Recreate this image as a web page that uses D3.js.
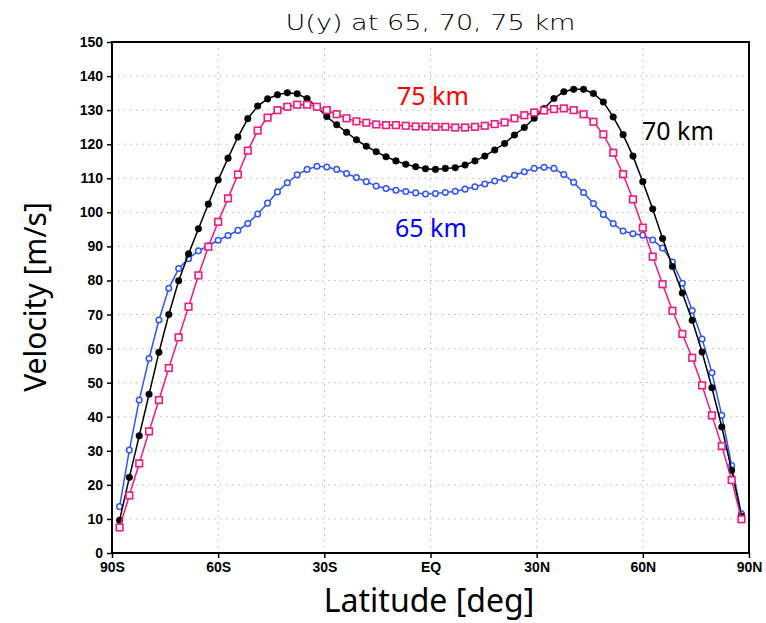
<!DOCTYPE html>
<html>
<head>
<meta charset="utf-8">
<script src="https://cdn.jsdelivr.net/npm/d3@7"></script>
<style>
  body { margin: 0; background: #fff; }
  svg { display: block; }
</style>
</head>
<body>
<div id="chart"></div>
<script>
// Gaussian latitudes (64 points), south to north
const lats = [
  -87.86, -85.10, -82.31, -79.53, -76.74, -73.95, -71.16, -68.37, -65.58, -62.79,
  -60.00, -57.21, -54.42, -51.63, -48.84, -46.04, -43.25, -40.46, -37.67, -34.88,
  -32.09, -29.30, -26.51, -23.72, -20.93, -18.14, -15.35, -12.56, -9.77, -6.98,
  -4.19, -1.40, 1.40, 4.19, 6.98, 9.77, 12.56, 15.35, 18.14, 20.93,
  23.72, 26.51, 29.30, 32.09, 34.88, 37.67, 40.46, 43.25, 46.04, 48.84,
  51.63, 54.42, 57.21, 60.00, 62.79, 65.58, 68.37, 71.16, 73.95, 76.74,
  79.53, 82.31, 85.10, 87.86
];

// U at 65 km (blue)
const u65 = [
  13.6, 30.2, 44.9, 57.1, 68.4, 77.7, 83.5, 86.4, 88.7, 90.2,
  91.8, 93.2, 94.7, 96.7, 99.5, 102.7, 106.0, 108.7, 111.0, 112.6,
  113.5, 113.3, 112.6, 111.4, 110.2, 109.0, 107.7, 107.0, 106.5, 106.1,
  105.7, 105.4, 105.5, 105.8, 106.2, 106.8, 107.5, 108.3, 109.2, 109.9,
  110.9, 111.9, 112.9, 113.2, 112.9, 111.1, 108.8, 105.8, 102.6, 99.4,
  96.7, 94.5, 93.7, 93.3, 91.9, 89.5, 85.4, 79.2, 71.2, 62.8,
  52.9, 40.4, 25.7, 11.5
];

// U at 70 km (black)
const u70 = [
  9.6, 22.2, 34.4, 46.6, 58.9, 70.0, 79.9, 87.8, 95.2, 102.4,
  109.5, 115.9, 122.1, 127.5, 131.2, 133.3, 134.5, 135.1, 134.8, 133.4,
  130.9, 128.1, 125.7, 123.5, 121.3, 119.4, 117.8, 116.3, 115.1, 114.1,
  113.4, 112.8, 112.6, 112.9, 113.1, 113.9, 115.1, 116.5, 118.3, 120.2,
  122.7, 124.9, 127.6, 130.5, 133.4, 135.4, 136.1, 136.1, 134.9, 132.4,
  128.0, 122.8, 116.5, 109.0, 101.0, 92.3, 84.1, 76.3, 68.3, 59.0,
  48.5, 37.0, 24.3, 10.8
];

// U at 75 km (pink)
const u75 = [
  7.5, 16.9, 26.3, 35.7, 44.9, 54.3, 63.3, 72.3, 81.5, 89.9,
  97.2, 104.1, 111.1, 118.1, 124.0, 127.8, 130.0, 131.0, 131.6, 131.6,
  131.0, 130.0, 128.8, 127.6, 126.7, 126.3, 125.8, 125.6, 125.6, 125.4,
  125.2, 125.2, 125.1, 125.1, 124.9, 124.9, 125.1, 125.4, 125.9, 126.4,
  127.6, 128.5, 129.3, 129.9, 130.3, 130.5, 130.0, 128.8, 126.6, 122.9,
  117.5, 111.2, 103.8, 95.5, 87.0, 78.9, 71.1, 64.3, 57.3, 49.2,
  40.4, 31.4, 21.4, 9.9
];

const xTicks = [-90, -60, -30, 0, 30, 60, 90];
const xTickLabels = ["90S", "60S", "30S", "EQ", "30N", "60N", "90N"];
const yTicks = d3.range(0, 151, 10);

const W = 766, H = 623;
const margin = { top: 42, right: 17, bottom: 70, left: 112 };
const width = W - margin.left - margin.right;
const height = H - margin.top - margin.bottom;

const svg = d3.select("#chart").append("svg")
  .attr("width", W).attr("height", H);

const g = svg.append("g")
  .attr("transform", "translate(" + margin.left + "," + margin.top + ")");

const x = d3.scaleLinear().domain([-90, 90]).range([0, width]);
const y = d3.scaleLinear().domain([0, 150]).range([height, 0]);

// grid lines
g.append("g").selectAll("line")
  .data(yTicks.filter(d => d > 0 && d < 150))
  .enter().append("line")
  .attr("x1", 0).attr("x2", width)
  .attr("y1", d => y(d)).attr("y2", d => y(d))
  .attr("stroke", "#b5b5b5").attr("stroke-width", 1)
  .attr("stroke-dasharray", "1.5,4.5");

g.append("g").selectAll("line")
  .data(xTicks.filter(d => d > -90 && d < 90))
  .enter().append("line")
  .attr("x1", d => x(d)).attr("x2", d => x(d))
  .attr("y1", 0).attr("y2", height)
  .attr("stroke", "#b5b5b5").attr("stroke-width", 1)
  .attr("stroke-dasharray", "1.5,4.5");

// axes
const xAxis = d3.axisBottom(x).tickValues(xTicks)
  .tickFormat((d, i) => xTickLabels[i]).tickSize(5).tickPadding(4);
const yAxis = d3.axisLeft(y).tickValues(yTicks).tickSize(5).tickPadding(4);

const gx = g.append("g").attr("transform", "translate(0," + height + ")").call(xAxis);
const gy = g.append("g").call(yAxis);
[gx, gy].forEach(a => {
  a.select(".domain").remove();
  a.selectAll(".tick line").attr("stroke", "#000").attr("stroke-width", 1.5);
  a.selectAll(".tick text")
    .attr("fill", "#000")
    .style("font-family", "'Liberation Sans', Arial, sans-serif")
    .style("font-weight", "bold")
    .style("font-size", "14px");
});

// frame
g.append("rect")
  .attr("x", 0).attr("y", 0).attr("width", width).attr("height", height)
  .attr("fill", "none").attr("stroke", "#000").attr("stroke-width", 2);

// series
const series = [
  { name: "65", values: u65, color: "#2f55ff", marker: "circle" },
  { name: "70", values: u70, color: "#000000", marker: "dot" },
  { name: "75", values: u75, color: "#f5197f", marker: "square" }
];

const line = d3.line()
  .x(d => x(d[0]))
  .y(d => y(d[1]));

series.forEach(s => {
  const pts = lats.map((lat, i) => [lat, s.values[i]]);
  g.append("path")
    .datum(pts)
    .attr("fill", "none")
    .attr("stroke", s.color)
    .attr("stroke-width", 1.5)
    .attr("d", line);

  if (s.marker === "square") {
    g.append("g").selectAll("rect")
      .data(pts).enter().append("rect")
      .attr("x", d => x(d[0]) - 3.3)
      .attr("y", d => y(d[1]) - 3.3)
      .attr("width", 6.6).attr("height", 6.6)
      .attr("fill", "#fff")
      .attr("stroke", s.color).attr("stroke-width", 1.6);
  } else {
    g.append("g").selectAll("circle")
      .data(pts).enter().append("circle")
      .attr("cx", d => x(d[0]))
      .attr("cy", d => y(d[1]))
      .attr("r", s.marker === "dot" ? 3.3 : 2.8)
      .attr("fill", s.marker === "dot" ? s.color : "#fff")
      .attr("stroke", s.color)
      .attr("stroke-width", s.marker === "dot" ? 0.5 : 1.5);
  }
});

// title
svg.append("text")
  .attr("x", margin.left + width / 2).attr("y", 30)
  .attr("text-anchor", "middle")
  .attr("textLength", 290).attr("lengthAdjust", "spacingAndGlyphs")
  .style("font-family", "'DejaVu Sans', sans-serif")
  .style("font-weight", 200)
  .style("font-size", "21px")
  .attr("fill", "#000")
  .text("U(y) at 65, 70, 75 km");

// series labels
const labelFont = "'Noto Sans', 'Open Sans', sans-serif";
svg.append("text").attr("x", 397).attr("y", 105)
  .style("font-family", labelFont).style("font-size", "25px")
  .attr("fill", "#ff0000").text("75 km");
svg.append("text").attr("x", 642).attr("y", 140)
  .style("font-family", labelFont).style("font-size", "25px")
  .attr("fill", "#000").text("70 km");
svg.append("text").attr("x", 395).attr("y", 237)
  .style("font-family", labelFont).style("font-size", "25px")
  .attr("fill", "#0000ff").text("65 km");

// axis titles
svg.append("text")
  .attr("transform", "translate(46," + 297 + ") rotate(-90)")
  .attr("text-anchor", "middle")
  .style("font-family", labelFont).style("font-size", "30px")
  .attr("fill", "#000").text("Velocity [m/s]");

svg.append("text")
  .attr("x", 429).attr("y", 612)
  .attr("text-anchor", "middle")
  .style("font-family", labelFont).style("font-size", "32px")
  .attr("fill", "#000").text("Latitude [deg]");
</script>
</body>
</html>
